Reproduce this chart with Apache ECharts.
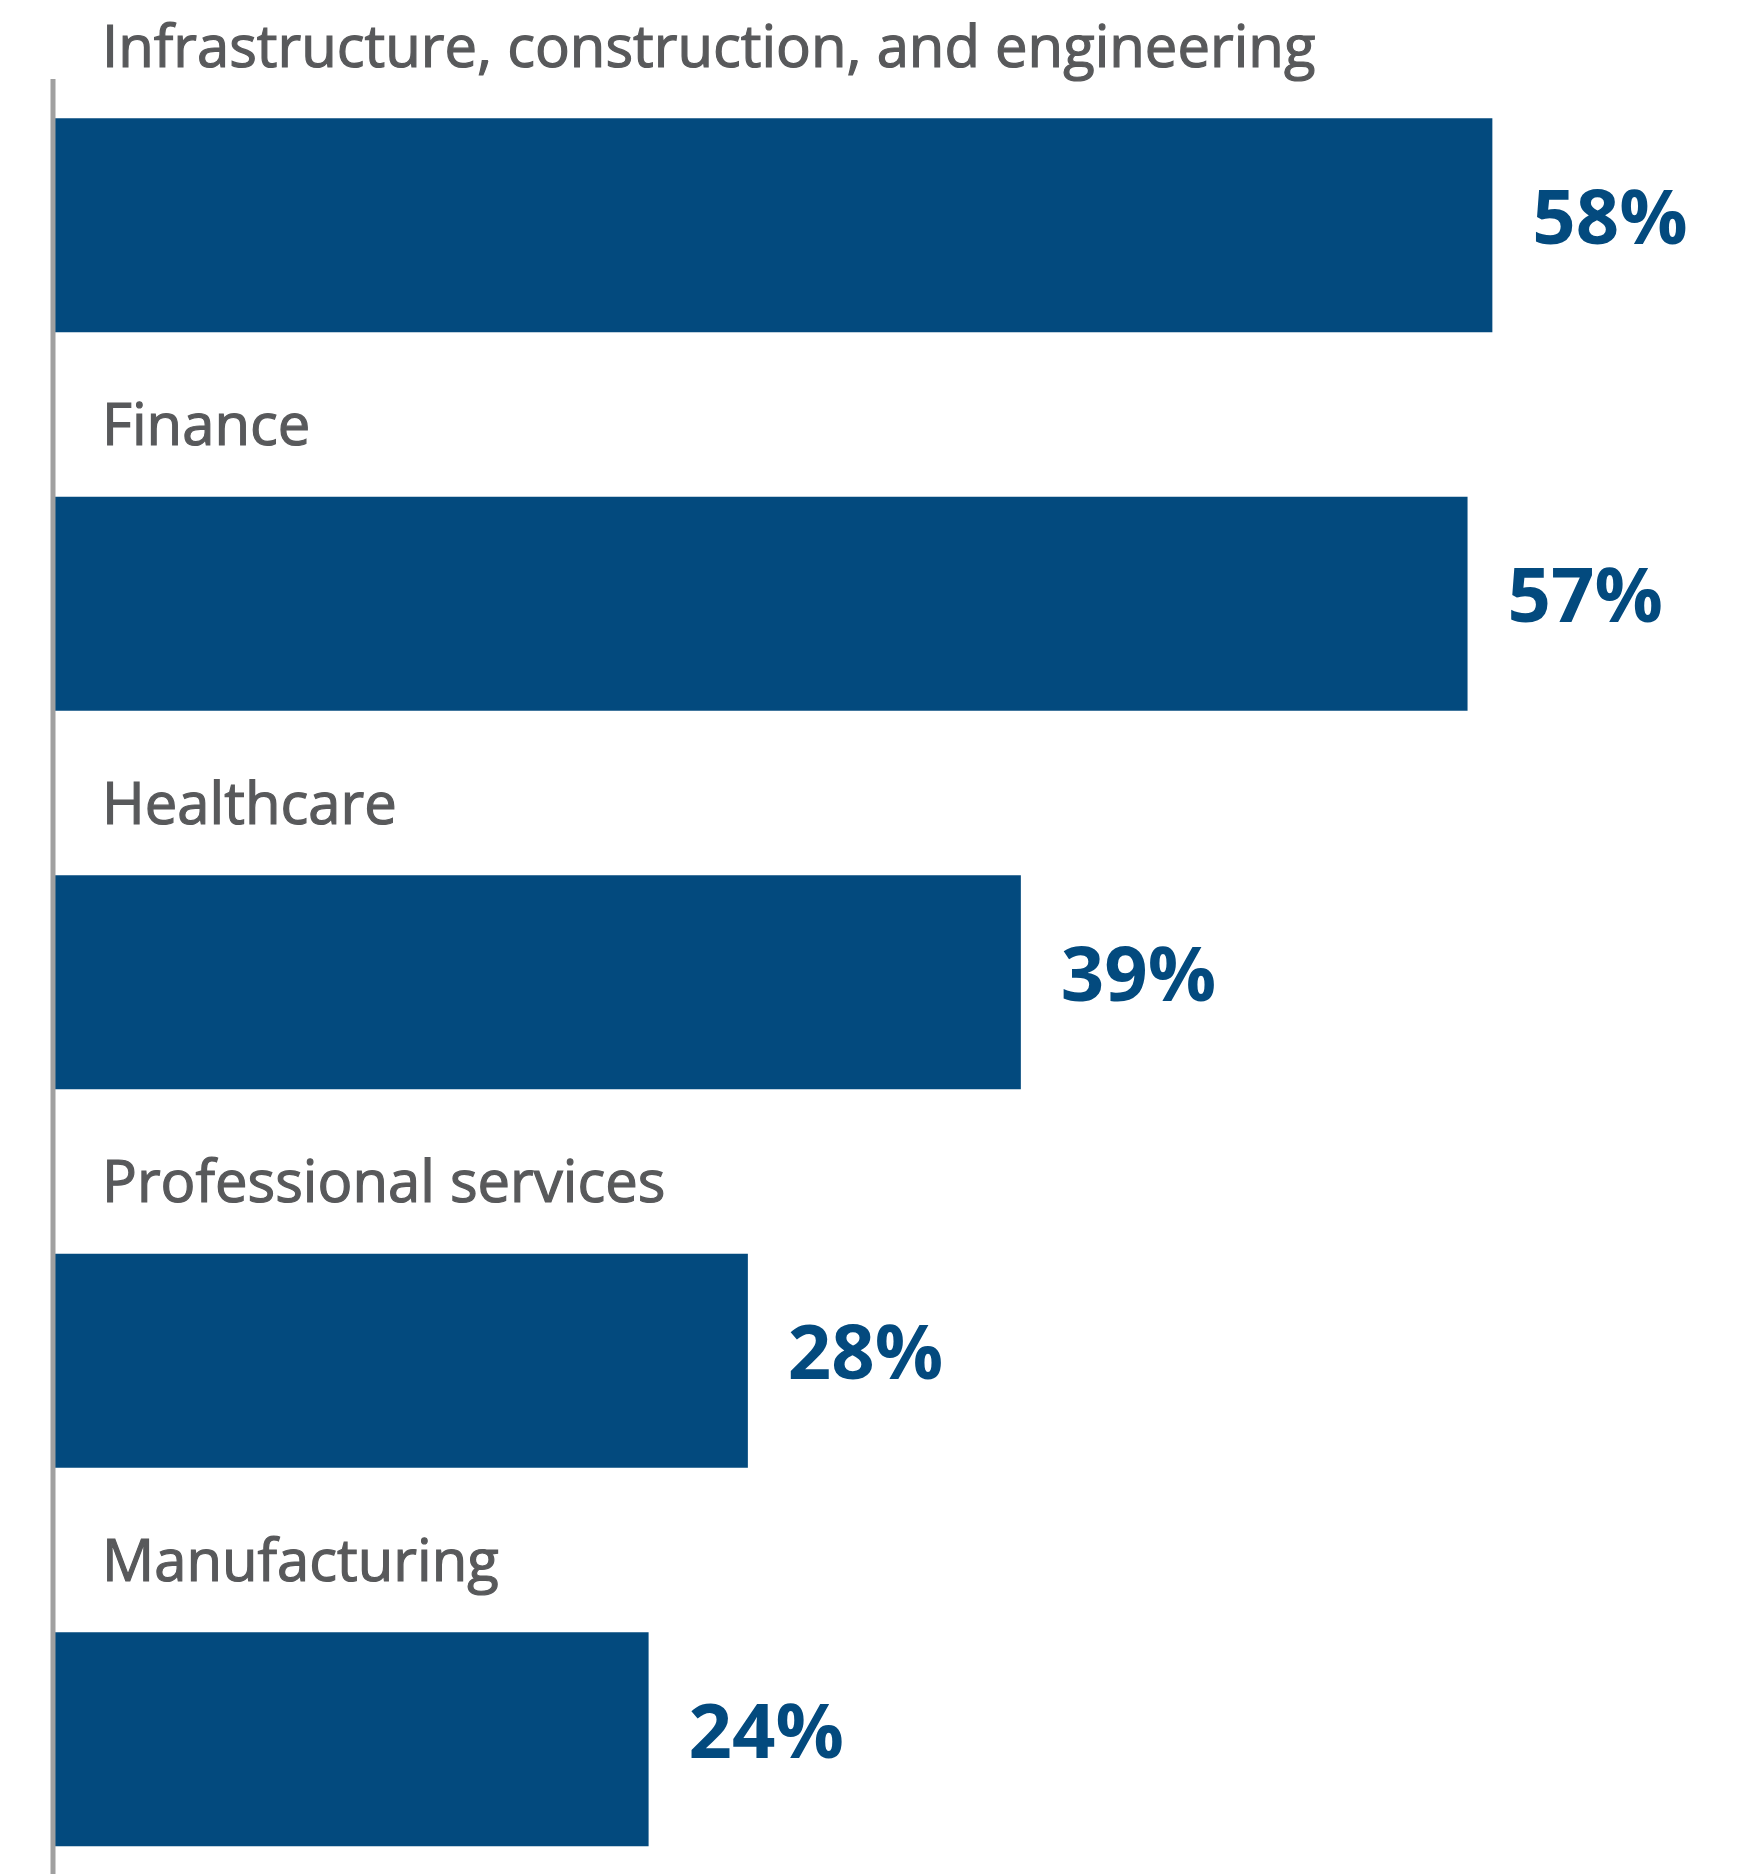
<!DOCTYPE html>
<html>
<head>
<meta charset="utf-8">
<style>
  html, body { margin: 0; padding: 0; background: #ffffff; }
  #chart { width: 1742px; height: 1874px; }
</style>
<script src="https://cdn.jsdelivr.net/npm/echarts@6/dist/echarts.min.js"></script>
</head>
<body>
<div id="chart"></div>
<script>
// Share of respondents by industry (%)
const categories = [
  'Infrastructure, construction, and engineering',
  'Finance',
  'Healthcare',
  'Professional services',
  'Manufacturing'
];
const shares = [58, 57, 39, 28, 24];

const BAR_BLUE = '#034A7E';
const LABEL_GREY = '#58595B';
const AXIS_GREY = '#A0A0A0';

const chart = echarts.init(document.getElementById('chart'), null, { renderer: 'canvas' });

chart.setOption({
  backgroundColor: '#ffffff',
  animation: false,
  // the last band runs past the bottom edge, so the grid is sized by height
  // and not kept inside the canvas
  grid: {
    left: 53, right: 200, top: 36, height: 1892.5,
    containLabel: false,
    outerBoundsMode: 'none'
  },
  xAxis: {
    type: 'value',
    min: 0,
    max: 60,
    show: false
  },
  yAxis: {
    type: 'category',
    inverse: true,
    data: categories,
    axisLine: { show: false },
    axisTick: { show: false },
    splitLine: { show: false },
    axisLabel: {
      inside: true,
      align: 'left',
      verticalAlign: 'bottom',
      margin: 49,
      color: LABEL_GREY,
      // a thin outline in the same grey gives the labels a medium weight
      textBorderColor: LABEL_GREY,
      textBorderWidth: 1.2,
      fontFamily: '"Open Sans", "Noto Sans", sans-serif',
      fontSize: 58,
      lineHeight: 58,
      padding: [0, 0, 146, 0]
    },
    z: 5
  },
  series: [{
    type: 'bar',
    data: shares,
    barWidth: 214,
    itemStyle: { color: BAR_BLUE },
    label: {
      show: true,
      position: 'right',
      distance: 40,
      offset: [0, -3],
      formatter: '{c}%',
      color: BAR_BLUE,
      fontFamily: '"Open Sans", "Noto Sans", sans-serif',
      fontWeight: 'bold',
      fontSize: 76
    }
  }]
});

// Vertical baseline rule at the zero of the value axis
const zeroX = chart.convertToPixel({ xAxisIndex: 0 }, 0);
chart.setOption({
  graphic: [{
    type: 'line',
    z: 10,
    shape: { x1: zeroX, y1: 79, x2: zeroX, y2: 1874 },
    style: { stroke: AXIS_GREY, lineWidth: 5 }
  }]
});
</script>
</body>
</html>
